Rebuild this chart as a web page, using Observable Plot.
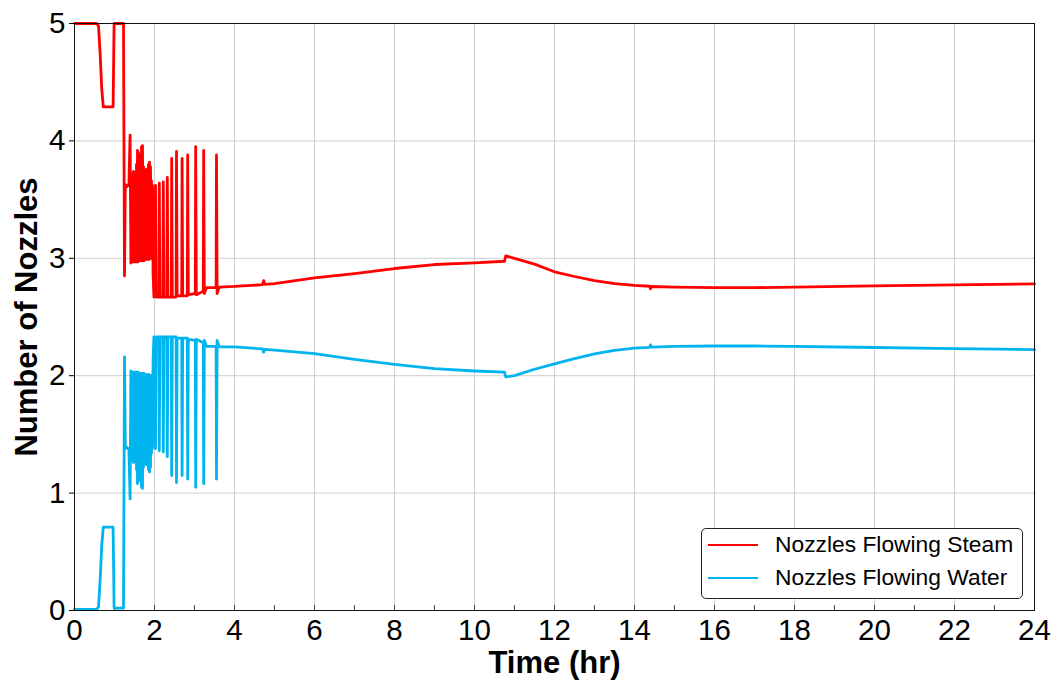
<!DOCTYPE html>
<html>
<head>
<meta charset="utf-8">
<script src="https://cdn.jsdelivr.net/npm/d3@7"></script>
<script src="https://cdn.jsdelivr.net/npm/@observablehq/plot@0.6"></script>
<style>
  body { margin: 0; background: #fff; }
  #wrap { position: relative; width: 1058px; height: 683px; font-family: "Liberation Sans", Arial, sans-serif; }
  #legend { position: absolute; left: 701px; top: 528px; width: 322px; height: 71px; border: 1px solid #222; border-radius: 5px; background: #fff; box-sizing: border-box; }
  .sw { position: absolute; left: 6px; width: 50px; height: 2.5px; }
  .lbl { position: absolute; left: 73px; font-size: 22.8px; line-height: 1; white-space: nowrap; color: #000; }
</style>
</head>
<body>
<div id="wrap">
  <div id="chart"></div>
  <div id="legend"></div>
</div>
<script>
// ---- data ----
const seriesNames = ["Nozzles Flowing Steam", "Nozzles Flowing Water"];
const seriesColors = ["#ff0000", "#00b4f0"];
const xTicks = [0, 2, 4, 6, 8, 10, 12, 14, 16, 18, 20, 22, 24];
const minorTicks = [1, 3, 5, 7, 9, 11, 13, 15, 17, 19, 21, 23];
const yTicks = [0, 1, 2, 3, 4, 5];

const hours = [
  0, 0.55, 0.60, 0.64, 0.68, 0.72, 0.965, 0.99, 1.225, 1.25, 1.27, 1.31, 1.36, 1.39, 1.41,
  1.425, 1.44, 1.45, 1.465, 1.475, 1.49, 1.50, 1.515, 1.525, 1.54, 1.55, 1.565, 1.575, 1.59,
  1.60, 1.615, 1.625, 1.64, 1.65, 1.665, 1.675, 1.69, 1.70, 1.715, 1.725, 1.74, 1.75, 1.765,
  1.775, 1.79, 1.80, 1.815, 1.825, 1.84, 1.85, 1.865, 1.875, 1.89, 1.90, 1.915, 1.925, 1.94,
  1.95, 1.965, 1.985,
  2.025, 2.04, 2.11, 2.12, 2.135, 2.21, 2.22, 2.235, 2.31, 2.32, 2.335, 2.42, 2.43, 2.445,
  2.54, 2.55, 2.565, 2.68, 2.69, 2.705, 2.82, 2.83, 2.845, 3.02, 3.03, 3.045, 3.22, 3.23,
  3.245, 3.30, 3.54, 3.55, 3.565, 3.62,
  4.0, 4.7, 4.73, 4.76, 5.0, 6.0, 7.0, 8.0, 9.0, 10.0, 10.75, 10.78, 11.0, 11.5, 12.0, 12.5,
  13.0, 13.5, 14.0, 14.38, 14.40, 14.42, 15.0, 16.0, 17.0, 18.0, 20.0, 22.0, 24.0
];

const steamNozzles = [
  5, 5, 4.98, 4.75, 4.45, 4.29, 4.29, 5, 5, 2.85, 3.63, 3.61, 3.63, 4.05, 2.96,
  3.72, 2.97, 3.70, 2.97, 3.74, 2.97, 3.68, 2.97, 3.73, 2.97, 3.80, 2.97, 3.92, 2.97,
  3.90, 2.98, 3.88, 2.98, 3.84, 2.98, 3.95, 2.98, 3.96, 2.98, 3.78, 2.98, 3.75, 2.99,
  3.72, 2.99, 3.76, 2.99, 3.74, 2.99, 3.80, 2.99, 3.82, 3.00, 3.78, 3.00, 3.66, 3.00,
  3.62, 2.86, 2.67,
  3.62, 2.67, 2.67, 3.64, 2.67, 2.67, 3.65, 2.67, 2.67, 3.69, 2.67, 2.67, 3.85, 2.67,
  2.67, 3.91, 2.68, 2.68, 3.85, 2.68, 2.68, 3.88, 2.69, 2.70, 3.95, 2.69, 2.72, 3.92,
  2.70, 2.75, 2.75, 3.88, 2.70, 2.755,
  2.76, 2.775, 2.81, 2.778, 2.785, 2.833, 2.87, 2.913, 2.947, 2.961, 2.975, 3.02, 3.0, 2.95, 2.885, 2.845,
  2.81, 2.785, 2.77, 2.762, 2.74, 2.76, 2.755, 2.75, 2.75, 2.755, 2.765, 2.773, 2.782
];

const waterNozzles = [
  0.01, 0.01, 0.03, 0.25, 0.55, 0.71, 0.71, 0.02, 0.02, 2.16, 1.38, 1.39, 1.37, 0.95, 2.04,
  1.28, 2.03, 1.30, 2.03, 1.26, 2.03, 1.32, 2.03, 1.27, 2.03, 1.20, 2.03, 1.08, 2.03,
  1.10, 2.02, 1.12, 2.02, 1.16, 2.02, 1.05, 2.02, 1.04, 2.02, 1.22, 2.02, 1.25, 2.01,
  1.28, 2.01, 1.24, 2.01, 1.26, 2.01, 1.20, 2.01, 1.18, 2.00, 1.22, 2.00, 1.34, 2.00,
  1.38, 2.14, 2.33,
  1.38, 2.33, 2.33, 1.36, 2.33, 2.33, 1.35, 2.33, 2.33, 1.31, 2.33, 2.33, 1.15, 2.33,
  2.33, 1.09, 2.32, 2.32, 1.15, 2.32, 2.32, 1.12, 2.31, 2.30, 1.05, 2.31, 2.28, 1.08,
  2.30, 2.25, 2.25, 1.12, 2.30, 2.245,
  2.245, 2.228, 2.20, 2.225, 2.217, 2.188, 2.14, 2.097, 2.06, 2.04, 2.03, 1.99, 2.0, 2.055, 2.10, 2.145,
  2.185, 2.215, 2.235, 2.242, 2.262, 2.244, 2.25, 2.253, 2.253, 2.25, 2.24, 2.23, 2.222
];

// ---- build table ----
const records = [
  ...hours.map((t, i) => ({t, v: steamNozzles[i], s: seriesNames[0]})),
  ...hours.map((t, i) => ({t, v: waterNozzles[i], s: seriesNames[1]}))
];

const W = 1058, H = 683, mT = 23, mB = 73, mL = 74, mR = 24;
const frameH = H - mT - mB;

const chart = Plot.plot({
  width: W, height: H,
  marginLeft: mL, marginRight: mR, marginTop: mT, marginBottom: mB,
  style: {fontFamily: '"Liberation Sans", Arial, sans-serif', background: "white", color: "black", overflow: "visible"},
  x: {domain: [0, 24]},
  y: {domain: [0, 5]},
  color: {domain: seriesNames, range: seriesColors},
  marks: [
    Plot.gridX(xTicks, {stroke: "#cfcfcf", strokeOpacity: 1, strokeWidth: 1}),
    Plot.gridY(yTicks, {stroke: "#cfcfcf", strokeOpacity: 1, strokeWidth: 1}),
    Plot.tickX(minorTicks.concat(xTicks), {x: d => d, insetTop: frameH - 5, stroke: "#444", strokeWidth: 1}),
    Plot.line(records, {x: "t", y: "v", z: "s", stroke: "s", strokeWidth: 2.8}),
    Plot.frame({stroke: "#111", strokeWidth: 1}),
    Plot.axisX(xTicks, {tickSize: 0, tickPadding: 9, fontSize: 29.5, label: null, tickFormat: d => String(d)}),
    Plot.axisY(yTicks, {tickSize: 5, tickPadding: 4, fontSize: 29.5, label: null, tickFormat: d => String(d)}),
    Plot.text(["Time (hr)"], {text: d => d, frameAnchor: "bottom", lineAnchor: "middle", textAnchor: "middle", dy: 53, fontSize: 31, fontWeight: "bold"}),
    Plot.text(["Number of Nozzles"], {text: d => d, frameAnchor: "left", lineAnchor: "middle", textAnchor: "middle", dx: -47, rotate: -90, fontSize: 31, fontWeight: "bold"})
  ]
});
document.getElementById("chart").appendChild(chart);

// ---- legend ----
const legend = document.getElementById("legend");
seriesNames.forEach((name, i) => {
  const sw = document.createElement("div");
  sw.className = "sw";
  sw.style.top = (14.5 + i * 33) + "px";
  sw.style.background = seriesColors[i];
  legend.appendChild(sw);
  const lb = document.createElement("div");
  lb.className = "lbl";
  lb.style.top = (4 + i * 33) + "px";
  lb.textContent = name;
  legend.appendChild(lb);
});
</script>
</body>
</html>
